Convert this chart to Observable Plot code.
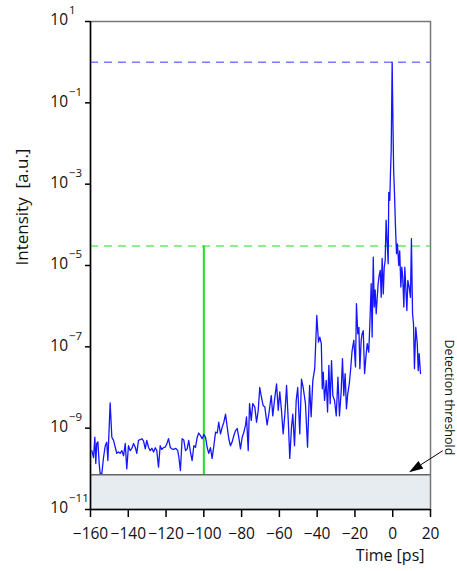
<!DOCTYPE html>
<html>
<head>
<meta charset="utf-8">
<script src="https://cdn.jsdelivr.net/npm/d3@7"></script>
<script src="https://cdn.jsdelivr.net/npm/@observablehq/plot@0.6"></script>
<style>
  html, body { margin: 0; padding: 0; background: #fff; }
  #chart svg { display: block; }
</style>
</head>
<body>
<div id="chart"></div>
<script>
// ---- Data ----
const timePs = [
  -159.3,-158.4,-157.7,-157.2,-156.7,-156.1,-155.4,-154.9,-154.0,-153.1,
  -152.2,-151.4,-150.8,-149.6,-148.7,-147.8,-146.9,-146.1,-145.2,-144.3,
  -143.4,-142.5,-141.6,-140.8,-139.9,-139.0,-138.1,-137.2,-136.3,-135.5,
  -134.6,-133.7,-132.8,-131.9,-131.0,-130.2,-129.3,-128.4,-127.5,-126.6,
  -125.7,-124.9,-124.0,-123.1,-122.3,-121.4,-120.5,-119.6,-118.7,-117.8,
  -117.0,-116.1,-114.8,-113.8,-113.2,-112.4,-111.5,-110.6,-109.7,-108.8,
  -108.0,-107.1,-106.2,-105.3,-104.4,-103.5,-102.7,-101.8,-100.9,-100.0,
  -99.1,-98.2,-97.4,-96.5,-95.6,-94.7,-93.8,-92.9,-92.1,-91.2,
  -90.3,-89.4,-88.5,-87.6,-86.8,-85.9,-85.0,-84.1,-83.2,-82.3,
  -81.5,-80.6,-79.7,-78.8,-77.9,-77.4,-76.5,-75.8,-74.9,-74.1,
  -73.0,-72.1,-71.2,-70.4,-69.5,-68.6,-67.7,-66.5,-65.6,-64.3,
  -63.5,-62.6,-61.5,-60.6,-59.8,-58.9,-58.0,-57.1,-56.2,-55.3,
  -54.5,-53.6,-52.9,-52.0,-51.1,-50.3,-49.2,-48.3,-47.4,-46.2,
  -45.1,-44.0,-43.2,-42.3,-41.3,-40.2,-39.3,-38.6,-37.8,-37.3,
  -36.8,-36.1,-35.2,-34.5,-33.8,-33.1,-32.4,-31.7,-30.8,-29.9,
  -29.0,-28.2,-27.3,-26.6,-25.9,-25.2,-24.5,-23.8,-23.0,-22.4,
  -21.5,-20.6,-19.7,-19.2,-18.5,-17.9,-17.4,-16.7,-16.2,-15.6,
  -14.9,-14.2,-13.5,-12.7,-12.1,-11.4,-10.9,-10.3,-9.8,-9.3,
  -8.75,-8.2,-7.7,-7.2,-6.6,-6.1,-5.6,-5.0,-4.5,-4.0,
  -3.5,-2.9,-2.4,-2.1,-1.55,-1.2,-0.8,-0.3,0.2,0.5,
  1.0,1.4,2.0,2.5,3.2,3.7,4.3,4.8,5.3,5.9,
  6.4,6.9,7.5,8.0,8.7,9.4,9.9,10.5,11.0,11.5,
  12.2,13.0,13.5,14.0,14.7
];
const intensity = [
  2.8e-10,1.9e-10,6.0e-10,1.35e-10,4.2e-10,4.6e-10,1.35e-10,7.7e-11,7.7e-11,1.9e-10,
  3.7e-10,4.5e-10,1.6e-10,4.2e-9,6.0e-10,5.0e-10,3.4e-10,2.4e-10,2.6e-10,2.4e-10,
  2.8e-10,2.1e-10,4.2e-10,1.0e-10,3.7e-10,2.8e-10,3.2e-10,4.2e-10,3.4e-10,2.4e-10,
  5.0e-10,5.2e-10,5.5e-10,4.8e-10,3.1e-10,5.0e-10,3.4e-10,2.8e-10,3.2e-10,2.6e-10,
  3.3e-10,2.8e-10,1.1e-10,3.7e-10,3.0e-10,3.3e-10,3.4e-10,4.1e-10,5.5e-10,3.4e-10,
  3.1e-10,3.0e-10,3.2e-10,2.8e-10,1.9e-10,9.1e-11,5.5e-10,5.1e-10,2.8e-10,3.1e-10,
  5.0e-10,2.6e-10,1.6e-10,3.7e-10,3.4e-10,6.0e-10,7.6e-10,6.6e-10,5.5e-10,7.0e-10,
  6.0e-10,3.3e-10,2.4e-10,3.3e-10,1.8e-10,3.7e-10,8.0e-10,7.6e-10,1.4e-9,7.2e-10,
  1.05e-9,1.4e-9,2.2e-9,1.05e-9,5.5e-10,3.7e-10,4.6e-10,6.6e-10,8.7e-10,9.8e-10,
  6.0e-10,3.1e-10,6.0e-10,8.0e-10,1.2e-9,1.9e-9,2.8e-10,4.0e-9,1.55e-9,4.0e-9,
  3.3e-9,1.4e-9,2.75e-9,1.0e-8,5.8e-9,3.6e-9,3.3e-9,1.2e-9,2.2e-9,6.3e-9,
  2.0e-9,4.8e-9,1.23e-8,2.75e-9,7.8e-9,2.75e-9,7.2e-10,2.2e-9,1.12e-8,1.55e-9,
  1.8e-10,1.05e-9,2.2e-9,3.7e-10,4.8e-9,1.0e-8,7.2e-10,1.6e-8,1.0e-8,4.0e-9,
  3.4e-10,1.12e-8,1.9e-9,1.5e-8,2.9e-8,5.9e-7,1.3e-7,1.74e-7,1.2e-7,9.3e-9,
  2.4e-8,4.8e-9,1.5e-8,2.5e-9,3.5e-8,4.0e-9,4.6e-8,6.3e-9,4.8e-9,2.0e-9,
  1.8e-8,2.0e-9,7.8e-9,5.1e-8,6.3e-9,2.2e-8,3.0e-9,7.1e-9,1.23e-8,2.4e-8,
  8.1e-8,1.45e-7,3.2e-8,1.15e-6,2.1e-7,3.0e-7,2.9e-8,1.45e-7,2.1e-7,2.5e-7,
  2.2e-8,5.6e-8,1.2e-7,7.4e-8,3.7e-7,3.6e-6,1.74e-7,1.6e-5,9.5e-7,2.5e-6,
  6.5e-7,1.65e-6,3.6e-6,5.6e-6,7.6e-6,1.65e-6,1.5e-5,2.0e-6,9.1e-6,1.3e-5,
  1.3e-4,3.4e-5,1.1e-5,6.3e-4,4.0e-4,1.8e-3,6.8e-3,1.0,1.7e-2,2.2e-3,
  4.8e-4,1.07e-4,1.95e-5,3.4e-5,1.0e-5,2.3e-5,2.95e-6,9.1e-6,5.1e-6,9.5e-7,
  9.1e-6,2.95e-6,7.8e-7,4.3e-6,2.95e-6,1.65e-6,4.6e-5,6.5e-7,3.7e-7,2.9e-8,
  3.0e-7,1.2e-7,2.6e-8,6.8e-8,2.2e-8
];
const peakLevel = 1;          // blue dashed reference level
const prepulseLevel = 3e-5;   // green dashed level
const prepulseTime = -100;    // green vertical line position
const thresholdLevel = 7.2e-11; // detection threshold
const xTicks = [-160, -140, -120, -100, -80, -60, -40, -20, 0, 20];
const yTickExponents = [1, -1, -3, -5, -7, -9, -11];
const xDomain = [-160, 20];
const yDomain = [1e-11, 10];
const xLabel = "Time [ps]";
const yLabel = "Intensity  [a.u.]";
const thresholdLabel = "Detection threshold";
const arrowFrom = {t: 26.7, v: 2.7e-10};
const arrowTo = {t: 8.9, v: 8e-11};

// ---- Derived tables ----
const trace = timePs.map((t, i) => ({t, v: intensity[i]}));
const yTicks = yTickExponents.map(e => ({e, v: Math.pow(10, e)}));
const expText = e => (e < 0 ? "\u2212" + (-e) : String(e));

const font = "'Open Sans', sans-serif";

const arrowMark = (index, scales) => {
  const ns = "http://www.w3.org/2000/svg";
  const g = document.createElementNS(ns, "g");
  const x1 = scales.x(arrowFrom.t), y1 = scales.y(arrowFrom.v);
  const x2 = scales.x(arrowTo.t), y2 = scales.y(arrowTo.v);
  const dx = x2 - x1, dy = y2 - y1, L = Math.hypot(dx, dy);
  const ux = dx / L, uy = dy / L;
  const hl = 14, hw = 4.5;
  const bx = x2 - ux * hl, by = y2 - uy * hl;
  const line = document.createElementNS(ns, "line");
  line.setAttribute("x1", x1); line.setAttribute("y1", y1);
  line.setAttribute("x2", bx); line.setAttribute("y2", by);
  line.setAttribute("stroke", "#000"); line.setAttribute("stroke-width", 1);
  g.appendChild(line);
  const head = document.createElementNS(ns, "polygon");
  head.setAttribute("points", [
    [x2, y2],
    [bx - uy * hw, by + ux * hw],
    [bx + uy * hw, by - ux * hw]
  ].map(p => p.join(",")).join(" "));
  head.setAttribute("fill", "#000");
  g.appendChild(head);
  return g;
};

const chart = Plot.plot({
  width: 457,
  height: 571,
  marginLeft: 90,
  marginRight: 27,
  marginTop: 21,
  marginBottom: 62,
  style: {fontFamily: font, background: "#fff", overflow: "visible"},
  x: {domain: xDomain},
  y: {type: "log", domain: yDomain},
  marks: [
    // threshold band
    Plot.rect([0], {x1: xDomain[0], x2: xDomain[1], y1: yDomain[0], y2: thresholdLevel, fill: "#e6ecef"}),
    Plot.ruleY([thresholdLevel], {stroke: "#666", strokeWidth: 1.5}),
    // frame (top / right gray)
    Plot.frame({stroke: "#777", strokeWidth: 1.5}),
    // reference levels
    Plot.ruleY([peakLevel], {stroke: "#7b7bff", strokeWidth: 1.5, strokeDasharray: "8,6"}),
    Plot.ruleY([prepulseLevel], {stroke: "#66ee66", strokeWidth: 1.5, strokeDasharray: "8,6"}),
    Plot.ruleX([prepulseTime], {y1: thresholdLevel, y2: prepulseLevel, stroke: "#22dd22", strokeWidth: 2}),
    // trace
    Plot.line(trace, {x: "t", y: "v", stroke: "#1515ff", strokeWidth: 1.3}),
    // axes
    Plot.axisX({ticks: xTicks, tickSize: 8, tickPadding: 10, fontSize: 15.5, label: null, stroke: "#000", strokeWidth: 1.5, fill: "#111"}),
    Plot.axisY({ticks: yTicks.map(d => d.v), tickSize: 5, tickFormat: () => "", label: null, strokeWidth: 1.5}),
    Plot.ruleX([xDomain[0]], {stroke: "#000", strokeWidth: 1.5}),
    Plot.ruleY([yDomain[0]], {stroke: "#000", strokeWidth: 1.5}),
    // y tick labels 10^e
    Plot.text(yTicks, {y: "v", text: () => "10", frameAnchor: "left", textAnchor: "end", dx: -22.5, dy: -1, fontSize: 15.5, fill: "#111"}),
    Plot.text(yTicks, {y: "v", text: d => expText(d.e), frameAnchor: "left", textAnchor: "start", dx: -21.5, dy: -11, fontSize: 11.5, fill: "#111"}),
    // axis labels
    Plot.text([yLabel], {frameAnchor: "left", rotate: -90, dx: -68, fontSize: 17, fill: "#111"}),
    Plot.text([xLabel], {frameAnchor: "bottom-right", textAnchor: "end", dx: -6, dy: 51, fontSize: 16, fill: "#111"}),
    // annotation
    Plot.text([thresholdLabel], {x: xDomain[1], y: 5.7e-9, rotate: 90, dx: 18, fontSize: 12.5, fill: "#111"}),
    arrowMark
  ]
});
document.getElementById("chart").appendChild(chart);
</script>
</body>
</html>
